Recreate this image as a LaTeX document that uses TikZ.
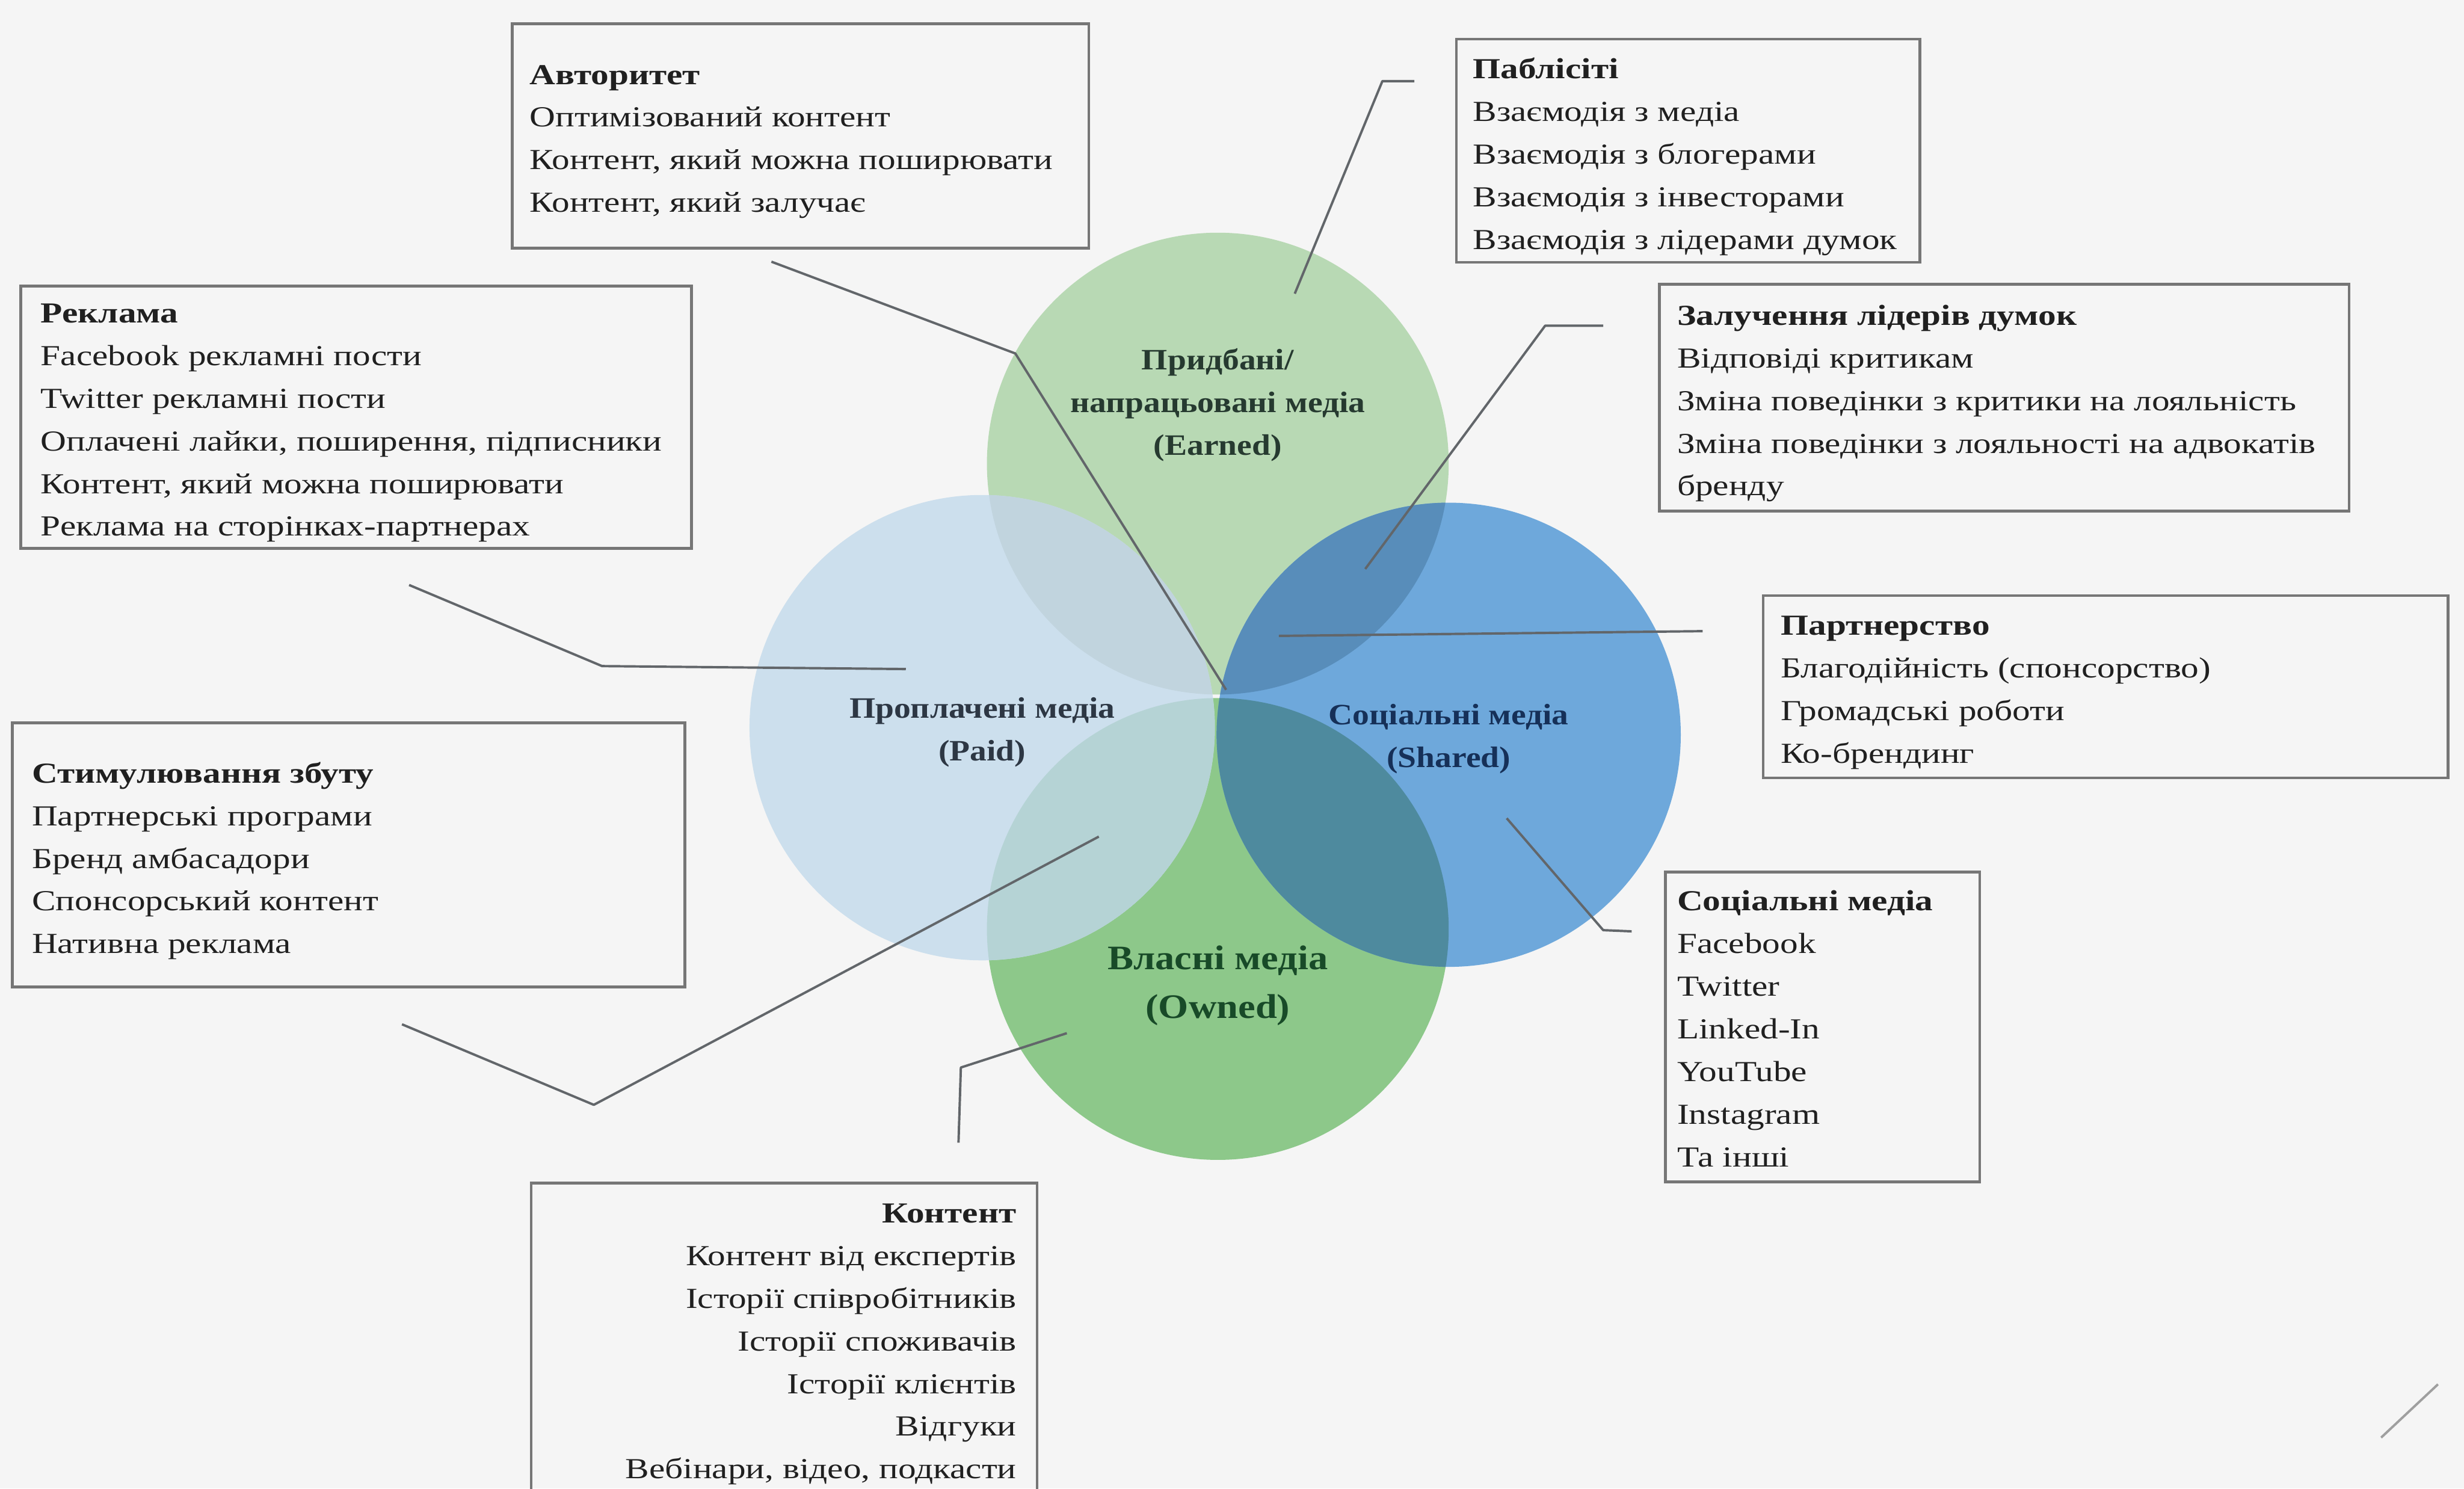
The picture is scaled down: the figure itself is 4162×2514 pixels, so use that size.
\documentclass[tikz,border=0pt]{standalone}
\usepackage{fontspec}
\setmainfont[FakeStretch=1.23]{Liberation Serif}
\newfontfamily\lblfam[FakeStretch=1.13]{Liberation Serif}
\definecolor{bgc}{RGB}{245,245,245}
\definecolor{earnedc}{RGB}{184,217,180}
\definecolor{ownedc}{RGB}{141,200,138}
\definecolor{paidc}{RGB}{204,223,237}
\definecolor{sharedc}{RGB}{110,168,219}
\definecolor{pec}{RGB}{193,212,222}
\definecolor{poc}{RGB}{181,211,213}
\definecolor{sec}{RGB}{88,141,186}
\definecolor{soc}{RGB}{78,138,158}
\definecolor{boxgray}{RGB}{118,118,118}
\definecolor{linegray}{RGB}{98,102,106}
\definecolor{txt}{RGB}{32,32,32}
\definecolor{etxt}{RGB}{38,58,48}
\definecolor{ptxt}{RGB}{45,55,68}
\definecolor{stxt}{RGB}{22,48,88}
\definecolor{otxt}{RGB}{24,74,40}
\newcommand\bxfont{\fontsize{49}{72}\selectfont}
\newcommand\cfont{\lblfam\fontsize{50}{72}\selectfont\bfseries}
\newcommand\ofont{\lblfam\fontsize{58}{82}\selectfont\bfseries}
\begin{document}
\begin{tikzpicture}[x=1pt,y=-1pt,
  frame/.style={draw=boxgray,line width=4.5pt,fill=bgc,rectangle,inner sep=0pt},
  btext/.style={anchor=west,align=left,inner sep=0pt,text=txt,font=\bxfont,yshift=-10pt},
  conn/.style={draw=linegray,line width=4pt,line join=round},
  clabel/.style={align=center,inner sep=0pt,font=\cfont}]
\useasboundingbox (0,0) rectangle (4162,2514);
\fill[bgc] (0,0) rectangle (4162,2514);

% circles
\coordinate (E) at (2057,783);
\coordinate (O) at (2057,1569);
\coordinate (P) at (1659,1229);
\coordinate (S) at (2447,1241);
\fill[earnedc] (E) circle[radius=390pt];
\fill[ownedc] (O) circle[radius=390pt];
\fill[paidc] (P) circle[radius=393pt];
\begin{scope}
  \clip (P) circle[radius=393pt];
  \fill[pec] (E) circle[radius=390pt];
  \fill[poc] (O) circle[radius=390pt];
\end{scope}
\fill[sharedc] (S) circle[radius=392pt];
\begin{scope}
  \clip (S) circle[radius=392pt];
  \fill[sec] (E) circle[radius=390pt];
  \fill[soc] (O) circle[radius=390pt];
\end{scope}

% circle labels
\node[clabel,text=etxt] (lE) at (2057,684) {Придбані/\\напрацьовані медіа\\(Earned)};
\node[clabel,text=ptxt] (lP) at (1659,1237) {Проплачені медіа\\(Paid)};
\node[clabel,text=stxt] (lS) at (2447,1248) {Соціальні медіа\\(Shared)};
\node[clabel,text=otxt,font=\ofont] (lO) at (2057,1665) {Власні медіа\\(Owned)};

% boxes
\node[frame,minimum width=974pt,minimum height=379pt] (avt) at (1352,229.5) {};
\node[btext] (avtT) at ([xshift=32pt]avt.west) {\textbf{Авторитет}\\Оптимізований контент\\Контент, який можна поширювати\\Контент, який залучає};

\node[frame,minimum width=783pt,minimum height=377pt] (pab) at (2851.5,254.5) {};
\node[btext] (pabT) at ([xshift=30pt]pab.west) {\textbf{Паблісіті}\\Взаємодія з медіа\\Взаємодія з блогерами\\Взаємодія з інвесторами\\Взаємодія з лідерами думок};

\node[frame,minimum width=1133pt,minimum height=443pt] (rek) at (601.5,704.5) {};
\node[btext] (rekT) at ([xshift=36pt]rek.west) {\textbf{Реклама}\\Facebook рекламні пости\\Twitter рекламні пости\\Оплачені лайки, поширення, підписники\\Контент, який можна поширювати\\Реклама на сторінках-партнерах};

\node[frame,minimum width=1165pt,minimum height=383pt] (zal) at (3385.5,671.5) {};
\node[btext] (zalT) at ([xshift=32pt]zal.west) {\textbf{Залучення лідерів думок}\\Відповіді критикам\\Зміна поведінки з критики на лояльність\\Зміна поведінки з лояльності на адвокатів\\бренду};

\node[frame,minimum width=1157pt,minimum height=308pt] (par) at (3556.5,1160) {};
\node[btext] (parT) at ([xshift=32pt]par.west) {\textbf{Партнерство}\\Благодійність (спонсорство)\\Громадські роботи\\Ко-брендинг};

\node[frame,minimum width=1136pt,minimum height=446pt] (stim) at (589,1444) {};
\node[btext] (stimT) at ([xshift=35pt]stim.west) {\textbf{Стимулювання збуту}\\Партнерські програми\\Бренд амбасадори\\Спонсорський контент\\Нативна реклама};

\node[frame,minimum width=531pt,minimum height=523pt] (socb) at (3078.5,1734.5) {};
\node[btext,yshift=7pt] (socT) at ([xshift=22pt]socb.west) {\textbf{Соціальні медіа}\\Facebook\\Twitter\\Linked-In\\YouTube\\Instagram\\Та інші};

% open box at the bottom
\coordinate (k1) at (897,2530);
\coordinate (k2) at (897,1998);
\coordinate (k3) at (1752,1998);
\coordinate (k4) at (1752,2530);
\draw[draw=boxgray,line width=4.5pt] (k1) -- (k2) -- (k3) -- (k4);
\node[anchor=north east,align=right,inner sep=0pt,text=txt,font=\bxfont] (kontT) at (1717,2033) {\textbf{Контент}\\Контент від експертів\\Історії співробітників\\Історії споживачів\\Історії клієнтів\\Відгуки\\Вебінари, відео, подкасти};

% connectors
\coordinate (a1) at (1303,442); \coordinate (a2) at (1715,597); \coordinate (a3) at (2071,1165);
\draw[conn] (a1) -- (a2) -- (a3);
\coordinate (b1) at (2389,137); \coordinate (b2) at (2335,137); \coordinate (b3) at (2187,496);
\draw[conn] (b1) -- (b2) -- (b3);
\coordinate (r1) at (691,988); \coordinate (r2) at (1017,1125); \coordinate (r3) at (1530,1130);
\draw[conn] (r1) -- (r2) -- (r3);
\coordinate (s1) at (679,1730); \coordinate (s2) at (1003,1866); \coordinate (s3) at (1856,1413);
\draw[conn] (s1) -- (s2) -- (s3);
\coordinate (k5) at (1619,1930); \coordinate (k6) at (1623,1803); \coordinate (k7) at (1802,1745);
\draw[conn] (k5) -- (k6) -- (k7);
\coordinate (z1) at (2708,550); \coordinate (z2) at (2610,550); \coordinate (z3) at (2306,961);
\draw[conn] (z1) -- (z2) -- (z3);
\coordinate (p1) at (2876,1066); \coordinate (p2) at (2160,1074);
\draw[conn] (p1) -- (p2);
\coordinate (m1) at (2545,1382); \coordinate (m2) at (2708,1571); \coordinate (m3) at (2756,1573);
\draw[conn] (m1) -- (m2) -- (m3);

% small mark bottom right
\coordinate (q1) at (4022,2428); \coordinate (q2) at (4118,2338);
\draw[draw=boxgray!70,line width=4pt] (q1) -- (q2);
\end{tikzpicture}
\end{document}
